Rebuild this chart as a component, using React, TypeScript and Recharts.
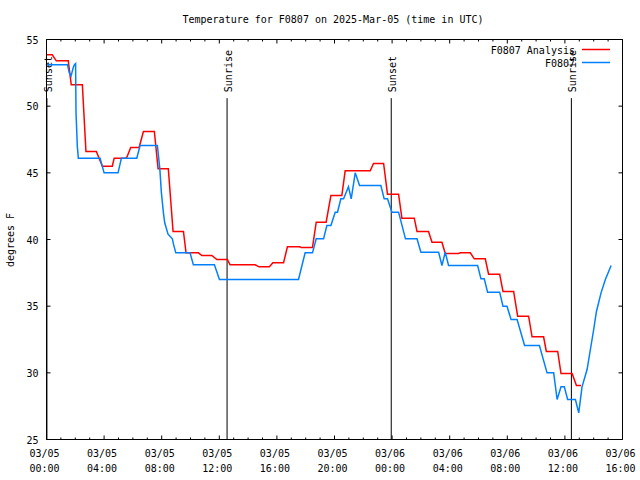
import { Line, LineChart, ReferenceLine, XAxis, YAxis } from 'recharts';

const FONT = '"DejaVu Sans Mono", monospace';

// hours since 03/05 00:00 UTC
const hourTicks = [
  0, 1, 2, 3, 4, 5, 6, 7, 8, 9, 10, 11, 12, 13, 14, 15, 16, 17, 18, 19, 20,
  21, 22, 23, 24, 25, 26, 27, 28, 29, 30, 31, 32, 33, 34, 35, 36, 37, 38, 39, 40,
];
const majorTicks = [0, 4, 8, 12, 16, 20, 24, 28, 32, 36, 40];
const dayLabels = ['03/05', '03/05', '03/05', '03/05', '03/05', '03/05', '03/06', '03/06', '03/06', '03/06', '03/06'];
const timeLabels = ['00:00', '04:00', '08:00', '12:00', '16:00', '20:00', '00:00', '04:00', '08:00', '12:00', '16:00'];
const tempTicks = [25, 30, 35, 40, 45, 50, 55];

// F0807 Analysis (red)
const analysisHours = [
  0, 0.4, 0.68, 1.51, 1.72, 2.49, 2.74, 3.46, 3.88, 4.57, 4.7, 5.55, 5.85, 6.43, 6.73, 7.49,
  7.75, 8.46, 8.79, 9.51, 9.69, 10.55, 10.79, 11.48, 11.83, 12.56, 12.75, 14.49, 14.76, 15.48,
  15.72, 16.46, 16.73, 17.57, 17.69, 18.47, 18.73, 19.42, 19.75, 20.51, 20.74, 22.48, 22.71,
  23.41, 23.68, 24.45, 24.68, 25.54, 25.73, 26.53, 26.77, 27.46, 27.69, 28.62, 28.74, 29.43,
  29.71, 30.47, 30.7, 31.47, 31.7, 32.44, 32.72, 33.48, 33.72, 34.52, 34.71, 35.5, 35.73,
  36.5, 36.8, 37.12,
];
const analysisTemps = [
  53.85, 53.85, 53.4, 53.4, 51.6, 51.6, 46.6, 46.6, 45.5, 45.5, 46.1, 46.1, 46.9, 46.9, 48.1, 48.1,
  45.3, 45.3, 40.6, 40.6, 39.0, 39.0, 38.8, 38.8, 38.5, 38.5, 38.1, 38.1, 37.95, 37.95,
  38.25, 38.25, 39.45, 39.45, 39.4, 39.4, 41.3, 41.3, 43.3, 43.3, 45.15, 45.15, 45.7,
  45.7, 43.4, 43.4, 41.6, 41.6, 40.6, 40.6, 39.8, 39.8, 38.95, 38.95, 39.0, 39.0,
  38.55, 38.55, 37.4, 37.4, 36.1, 36.1, 34.25, 34.25, 32.7, 32.7, 31.6, 31.6, 29.95,
  29.95, 29.05, 29.05,
];

// F0807 observations (blue)
const obsHours = [
  0, 1.46, 1.58, 1.7, 1.86, 1.93, 2.02, 2.05, 2.14, 2.21, 3.72, 4.0, 4.97, 5.2, 6.27, 6.5,
  7.7, 7.87, 7.98, 8.12, 8.21, 8.44, 8.74, 8.83, 8.98, 9.97, 10.2, 11.66, 12.01, 17.5, 17.96,
  18.47, 18.73, 19.24, 19.47, 19.75, 20.05, 20.21, 20.44, 20.63, 20.97, 21.16, 21.44, 21.74,
  23.22, 23.45, 23.68, 23.99, 24.45, 24.93, 25.73, 26.0, 27.23, 27.46, 27.69, 27.92, 29.94,
  30.17, 30.4, 30.63, 31.47, 31.7, 31.98, 32.26, 32.68, 33.2, 34.23, 34.76, 35.22, 35.46,
  35.73, 35.96, 36.19, 36.73, 36.96, 37.19, 37.54, 37.77, 38.0, 38.19, 38.51, 38.81, 39.21,
];
const obsTemps = [
  53.1, 53.1, 52.5, 52.25, 52.9, 53.1, 53.2, 49.5, 47.0, 46.1, 46.1, 45.0, 45.0, 46.1, 46.1, 47.05,
  47.05, 45.3, 43.5, 42.0, 41.25, 40.4, 40.05, 39.6, 39.0, 39.0, 38.1, 38.1, 37.0, 37.0, 39.0,
  39.0, 40.05, 40.05, 41.05, 41.05, 42.05, 42.05, 43.05, 43.05, 43.95, 43.05, 45.0, 44.05,
  44.05, 43.05, 43.05, 42.05, 42.05, 40.05, 40.05, 39.05, 39.05, 38.05, 39.05, 38.05, 38.05,
  37.05, 37.05, 36.05, 36.05, 35.0, 35.0, 34.0, 34.0, 32.05, 32.05, 30.0, 30.0, 28.0,
  28.95, 28.95, 28.0, 28.0, 27.0, 28.95, 30.25, 31.75, 33.25, 34.6, 36.0, 37.0, 38.05,
];

const sunHours = [0.03, 12.54, 23.94, 36.45];
const sunLabels = ['Sunset', 'Sunrise', 'Sunset', 'Sunrise'];

const analysisData = analysisHours.map((h, i) => ({ h, t: analysisTemps[i] }));
const obsData = obsHours.map((h, i) => ({ h, t: obsTemps[i] }));

const textStyle = { fontFamily: FONT, fontSize: 10, fill: '#000' };

// plot box edges, used to anchor tick marks
const PLOT = { left: 46.5, right: 622.5, top: 39.5, bottom: 439.5 };

function BottomTick({ x, payload }: any) {
  const y = PLOT.bottom;
  const i = majorTicks.indexOf(payload.value);
  const len = i >= 0 ? 4 : 2;
  return (
    <g>
      <line x1={x} y1={y} x2={x} y2={y - len} stroke="#000" />
      {i >= 0 && (
        <>
          <text x={x - 2} y={y + 17} textAnchor="middle" {...textStyle}>
            {dayLabels[i]}
          </text>
          <text x={x - 2} y={y + 32} textAnchor="middle" {...textStyle}>
            {timeLabels[i]}
          </text>
        </>
      )}
    </g>
  );
}

function TopTick({ x, payload }: any) {
  const y = PLOT.top;
  const len = majorTicks.includes(payload.value) ? 4 : 2;
  return <line x1={x} y1={y} x2={x} y2={y + len} stroke="#000" />;
}

function LeftTick({ y, payload }: any) {
  const x = PLOT.left;
  return (
    <g>
      <line x1={x} y1={y} x2={x + 4} y2={y} stroke="#000" />
      <text x={x - 8} y={y + 4} textAnchor="end" {...textStyle}>
        {payload.value}
      </text>
    </g>
  );
}

function RightTick({ y }: any) {
  const x = PLOT.right;
  return <line x1={x} y1={y} x2={x - 4} y2={y} stroke="#000" />;
}

function sunLabel(text: string) {
  return ({ viewBox }: any) => {
    const bx = viewBox.x + 5;
    const by = viewBox.y - 6;
    return (
      <text x={bx} y={by} transform={`rotate(-90 ${bx} ${by})`} textAnchor="start" {...textStyle}>
        {text}
      </text>
    );
  };
}

export default function App() {
  return (
    <div style={{ position: 'absolute', left: 0, top: 0, width: 640, height: 480, background: '#fff' }}>
      <LineChart
        width={640}
        height={480}
        margin={{ top: 29.5, right: 7.5, bottom: 30.5, left: 36.5 }}
      >
        <XAxis
          type="number"
          dataKey="h"
          domain={[0, 40]}
          ticks={hourTicks}
          interval={0}
          height={10}
          tickSize={0}
          tickMargin={0}
          allowDataOverflow
          axisLine={{ stroke: '#000' }}
          tickLine={false}
          tick={BottomTick}
        />
        <XAxis
          xAxisId="top"
          orientation="top"
          type="number"
          dataKey="h"
          domain={[0, 40]}
          ticks={hourTicks}
          interval={0}
          height={10}
          tickSize={0}
          tickMargin={0}
          allowDataOverflow
          axisLine={{ stroke: '#000' }}
          tickLine={false}
          tick={TopTick}
        />
        <YAxis
          type="number"
          domain={[25, 55]}
          ticks={tempTicks}
          interval={0}
          width={10}
          tickSize={0}
          tickMargin={0}
          allowDataOverflow
          axisLine={{ stroke: '#000' }}
          tickLine={false}
          tick={LeftTick}
        />
        <YAxis
          yAxisId="r"
          orientation="right"
          type="number"
          domain={[25, 55]}
          ticks={tempTicks}
          interval={0}
          width={10}
          tickSize={0}
          tickMargin={0}
          allowDataOverflow
          axisLine={{ stroke: '#000' }}
          tickLine={false}
          tick={RightTick}
        />
        {sunHours.map((h, i) => (
          <ReferenceLine
            key={i}
            segment={[
              { x: h, y: 50.6 },
              { x: h, y: 25 },
            ]}
            stroke="#000"
            strokeWidth={1}
            label={sunLabel(sunLabels[i])}
          />
        ))}
        <Line
          data={analysisData}
          dataKey="t"
          type="linear"
          stroke="#ff0000"
          strokeWidth={1.5}
          dot={false}
          isAnimationActive={false}
          name="F0807 Analysis"
        />
        <Line
          data={obsData}
          dataKey="t"
          type="linear"
          stroke="#0080ff"
          strokeWidth={1.5}
          dot={false}
          isAnimationActive={false}
          name="F0807"
        />
      </LineChart>
      <svg
        width={640}
        height={480}
        style={{ position: 'absolute', left: 0, top: 0, pointerEvents: 'none' }}
      >
        <text x={333} y={23} textAnchor="middle" {...textStyle}>
          Temperature for F0807 on 2025-Mar-05 (time in UTC)
        </text>
        <text x={14} y={240} transform="rotate(-90 14 240)" textAnchor="middle" {...textStyle}>
          degrees F
        </text>
        <text x={575} y={54} textAnchor="end" {...textStyle}>
          F0807 Analysis
        </text>
        <line x1={582} y1={49.5} x2={610} y2={49.5} stroke="#ff0000" strokeWidth={1.5} />
        <text x={575} y={67} textAnchor="end" {...textStyle}>
          F0807
        </text>
        <line x1={582} y1={62.5} x2={610} y2={62.5} stroke="#0080ff" strokeWidth={1.5} />
      </svg>
    </div>
  );
}
